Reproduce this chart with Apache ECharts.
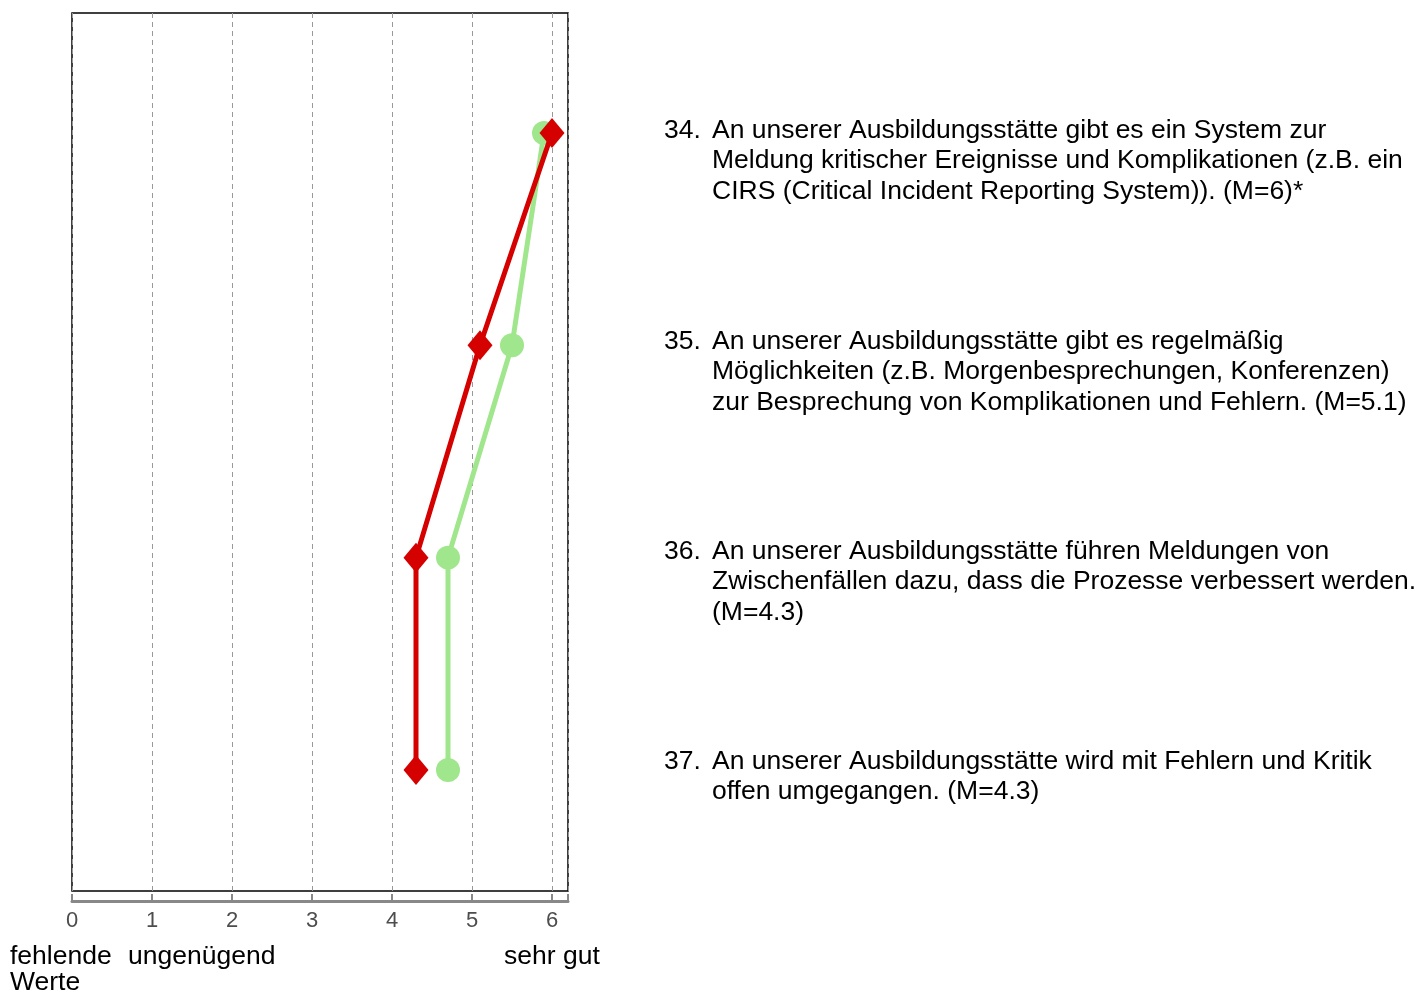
<!DOCTYPE html>
<html>
<head>
<meta charset="utf-8">
<script src="https://cdn.jsdelivr.net/npm/echarts@6/dist/echarts.min.js"></script>
<style>
html,body{margin:0;padding:0;background:#fff;}
#chart{width:1421px;height:993px;}
</style>
</head>
<body>
<div id="chart"></div>
<script>
const itemNumbers = ['34.', '35.', '36.', '37.'];
const itemTexts = [
  'An unserer Ausbildungsstätte gibt es ein System zur\nMeldung kritischer Ereignisse und Komplikationen (z.B. ein\nCIRS (Critical Incident Reporting System)). (M=6)*',
  'An unserer Ausbildungsstätte gibt es regelmäßig\nMöglichkeiten (z.B. Morgenbesprechungen, Konferenzen)\nzur Besprechung von Komplikationen und Fehlern. (M=5.1)',
  'An unserer Ausbildungsstätte führen Meldungen von\nZwischenfällen dazu, dass die Prozesse verbessert werden.\n(M=4.3)',
  'An unserer Ausbildungsstätte wird mit Fehlern und Kritik\noffen umgegangen. (M=4.3)'
];
const itemPositions = [1, 2, 3, 4];
const greenValues = [5.9, 5.5, 4.7, 4.7];
const redValues = [6.0, 5.1, 4.3, 4.3];
const xTickLabels = ['0', '1', '2', '3', '4', '5', '6'];
const scaleLabels = ['fehlende\nWerte', 'ungenügend', 'sehr gut'];

const FONT = '"Liberation Sans", Arial, Helvetica, sans-serif';
const chart = echarts.init(document.getElementById('chart'));

const option = {
  backgroundColor: '#ffffff',
  animation: false,
  grid: {
    left: 72, top: 13, width: 496, height: 878,
    show: true, borderColor: '#000', borderWidth: 1.5, backgroundColor: 'transparent'
  },
  xAxis: {
    type: 'value', min: 0, max: 6.2, interval: 1,
    offset: 10,
    axisLine: { show: true, lineStyle: { color: '#888', width: 3 } },
    axisTick: { show: true, inside: true, length: 7, lineStyle: { color: '#888', width: 2 } },
    axisLabel: {
      color: '#4d4d4d', fontSize: 22, fontFamily: FONT, margin: 9,
      formatter: v => (Number.isInteger(v) && v <= 6) ? xTickLabels[v] : ''
    },
    splitLine: {
      show: true,
      lineStyle: { color: '#999', type: [5, 4], width: 1 }
    }
  },
  yAxis: {
    type: 'value', inverse: true, min: 0.435, max: 4.57,
    show: false,
    splitLine: { show: false }
  },
  series: [
    {
      type: 'line',
      data: greenValues.map((v, i) => [v, itemPositions[i]]),
      symbol: 'circle', symbolSize: 24,
      itemStyle: { color: '#a0e68c' },
      lineStyle: { color: '#a0e68c', width: 5 },
      z: 3
    },
    {
      type: 'line',
      data: redValues.map((v, i) => [v, itemPositions[i]]),
      symbol: 'diamond', symbolSize: [25, 30],
      itemStyle: { color: '#d50000' },
      lineStyle: { color: '#d50000', width: 5 },
      z: 4
    }
  ]
};
chart.setOption(option);

const textTops = [115, 326, 536, 746];
const graphics = [];
itemPositions.forEach((p, i) => {
  graphics.push({
    type: 'text', left: 664, top: textTops[i],
    style: { text: itemNumbers[i], font: '26.5px ' + FONT, fill: '#000', lineHeight: 30.5 }
  });
  graphics.push({
    type: 'text', left: 712, top: textTops[i],
    style: { text: itemTexts[i], font: '26.5px ' + FONT, fill: '#000', lineHeight: 30.5 }
  });
});
graphics.push({
  type: 'text', left: 10, top: 943,
  style: { text: scaleLabels[0], font: '26.5px ' + FONT, fill: '#000', lineHeight: 26 }
});
graphics.push({
  type: 'text', left: 128, top: 943,
  style: { text: scaleLabels[1], font: '26.5px ' + FONT, fill: '#000', lineHeight: 26 }
});
graphics.push({
  type: 'text', left: 504, top: 943,
  style: { text: scaleLabels[2], font: '26.5px ' + FONT, fill: '#000', lineHeight: 26 }
});
chart.setOption({ graphic: graphics });
</script>
</body>
</html>
